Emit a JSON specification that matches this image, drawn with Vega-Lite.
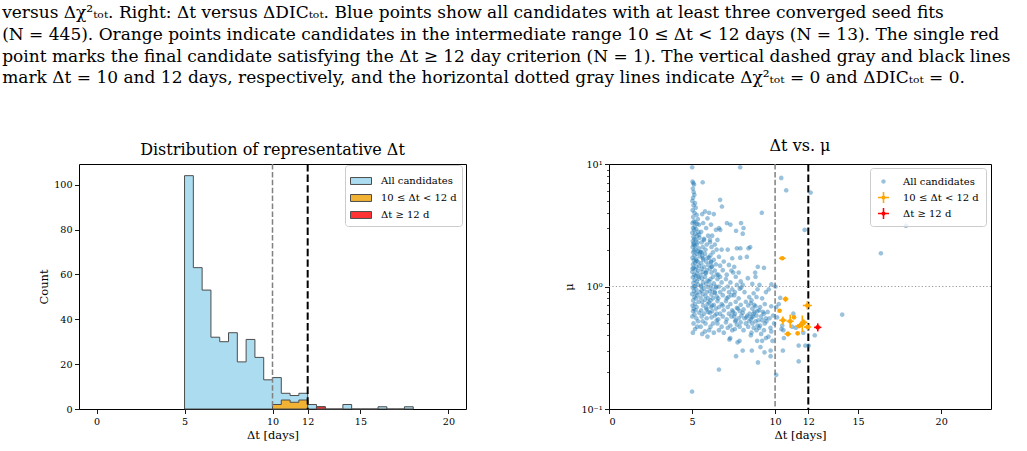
{
"$schema":"https://vega.github.io/schema/vega-lite/v6.json",
"padding":{"left":2,"top":4,"right":0,"bottom":0},
"title":{"text":["versus Δχ²ₜₒₜ. Right: Δt versus ΔDICₜₒₜ. Blue points show all candidates with at least three converged seed fits","(N = 445). Orange points indicate candidates in the intermediate range 10 ≤ Δt < 12 days (N = 13). The single red","point marks the final candidate satisfying the Δt ≥ 12 day criterion (N = 1). The vertical dashed gray and black lines","mark Δt = 10 and 12 days, respectively, and the horizontal dotted gray lines indicate Δχ²ₜₒₜ = 0 and ΔDICₜₒₜ = 0."],"anchor":"start","dx":-36,"font":"DejaVu Serif","fontSize":17,"fontWeight":"normal","color":"#000","lineHeight":21.7,"offset":50},
"datasets":{
"histAll":[{"x":5,"n":104},{"x":5.5,"n":63},{"x":6,"n":53},{"x":6.5,"n":32},{"x":7,"n":30},{"x":7.5,"n":34},{"x":8,"n":21},{"x":8.5,"n":31},{"x":9,"n":23},{"x":9.5,"n":13},{"x":10,"n":14},{"x":10.5,"n":7},{"x":11,"n":6},{"x":11.5,"n":7},{"x":12,"n":2},{"x":12.5,"n":1},{"x":13,"n":0},{"x":13.5,"n":0},{"x":14,"n":2},{"x":14.5,"n":0},{"x":15,"n":0},{"x":15.5,"n":0},{"x":16,"n":1},{"x":16.5,"n":0},{"x":17,"n":0},{"x":17.5,"n":1},{"x":18,"n":0}],
"histMid":[{"x":10,"n":2},{"x":10.5,"n":4},{"x":11,"n":3},{"x":11.5,"n":4},{"x":12,"n":0}],
"histHi":[{"x":12.5,"n":1},{"x":13,"n":0}],
"blue":[
{"x":5.01,"m":9.4},{"x":5.03,"m":7.2},{"x":5.08,"m":7.0},{"x":5.12,"m":6.8},{"x":5.05,"m":6.3},{"x":5.1,"m":5.9},{"x":5.14,"m":5.6},{"x":5.06,"m":5.3},{"x":5.02,"m":5.0},{"x":5.18,"m":4.8},
{"x":5.09,"m":4.6},{"x":5.22,"m":4.4},{"x":5.04,"m":4.2},{"x":5.15,"m":4.0},{"x":5.28,"m":3.85},{"x":5.07,"m":3.7},{"x":5.35,"m":3.55},{"x":5.11,"m":3.4},{"x":5.2,"m":3.35},{"x":5.03,"m":3.3},
{"x":5.42,"m":3.2},{"x":5.16,"m":3.1},{"x":5.06,"m":3.0},{"x":5.25,"m":2.95},{"x":5.13,"m":2.9},{"x":5.38,"m":2.8},{"x":5.02,"m":2.75},{"x":5.19,"m":2.7},{"x":5.31,"m":2.6},{"x":5.08,"m":2.55},
{"x":5.45,"m":2.5},{"x":5.14,"m":2.45},{"x":5.23,"m":2.4},{"x":5.05,"m":2.35},{"x":5.33,"m":2.3},{"x":5.1,"m":2.25},{"x":5.27,"m":2.2},{"x":5.17,"m":2.15},{"x":5.04,"m":2.1},{"x":5.4,"m":2.05},
{"x":5.21,"m":2.0},{"x":5.12,"m":1.97},{"x":5.36,"m":1.93},{"x":5.07,"m":1.9},{"x":5.29,"m":1.85},{"x":5.15,"m":1.8},{"x":5.47,"m":1.76},{"x":5.03,"m":1.72},{"x":5.24,"m":1.68},{"x":5.11,"m":1.64},
{"x":5.34,"m":1.6},{"x":5.18,"m":1.56},{"x":5.06,"m":1.52},{"x":5.43,"m":1.48},{"x":5.26,"m":1.45},{"x":5.09,"m":1.42},{"x":5.2,"m":1.38},{"x":5.37,"m":1.35},{"x":5.02,"m":1.32},{"x":5.3,"m":1.28},
{"x":5.13,"m":1.25},{"x":5.22,"m":1.22},{"x":5.05,"m":1.19},{"x":5.41,"m":1.16},{"x":5.16,"m":1.13},{"x":5.28,"m":1.1},{"x":5.08,"m":1.07},{"x":5.35,"m":1.04},{"x":5.19,"m":1.01},{"x":5.04,"m":0.98},
{"x":5.25,"m":0.95},{"x":5.12,"m":0.92},{"x":5.46,"m":0.9},{"x":5.01,"m":0.87},{"x":5.32,"m":0.85},{"x":5.14,"m":0.82},{"x":5.23,"m":0.8},{"x":5.07,"m":0.77},{"x":5.39,"m":0.75},{"x":5.17,"m":0.72},
{"x":5.03,"m":0.7},{"x":5.28,"m":0.68},{"x":5.1,"m":0.66},{"x":5.21,"m":0.64},{"x":5.06,"m":0.63},{"x":5.44,"m":0.61},{"x":5.15,"m":0.59},{"x":5.02,"m":0.57},{"x":5.26,"m":0.55},{"x":5.36,"m":0.52},
{"x":5.09,"m":0.5},{"x":5.31,"m":0.47},{"x":5.18,"m":0.45},{"x":5.05,"m":0.42},{"x":5.0,"m":0.139},{"x":5.3,"m":3.25},{"x":5.43,"m":2.65},{"x":5.09,"m":2.2},{"x":5.48,"m":1.9},{"x":5.27,"m":1.62},
{"x":5.03,"m":1.4},{"x":5.38,"m":1.2},{"x":5.13,"m":1.0},{"x":5.24,"m":0.88},
{"x":5.64,"m":7.1},{"x":5.78,"m":4.1},{"x":5.61,"m":3.9},{"x":5.93,"m":3.6},{"x":5.67,"m":3.3},{"x":5.85,"m":3.0},{"x":5.55,"m":2.8},{"x":5.97,"m":2.6},{"x":5.72,"m":2.45},{"x":5.58,"m":2.3},
{"x":5.88,"m":2.2},{"x":5.64,"m":2.1},{"x":5.81,"m":2.0},{"x":5.52,"m":1.92},{"x":5.78,"m":1.85},{"x":5.61,"m":1.78},{"x":5.93,"m":1.72},{"x":5.67,"m":1.66},{"x":5.85,"m":1.6},{"x":5.55,"m":1.55},
{"x":5.97,"m":1.5},{"x":5.72,"m":1.45},{"x":5.58,"m":1.4},{"x":5.88,"m":1.36},{"x":5.64,"m":1.32},{"x":5.81,"m":1.28},{"x":5.52,"m":1.24},{"x":5.78,"m":1.2},{"x":5.61,"m":1.16},{"x":5.93,"m":1.12},
{"x":5.67,"m":1.08},{"x":5.85,"m":1.05},{"x":5.55,"m":1.02},{"x":5.97,"m":0.99},{"x":5.72,"m":0.96},{"x":5.58,"m":0.93},{"x":5.88,"m":0.9},{"x":5.64,"m":0.87},{"x":5.81,"m":0.84},{"x":5.52,"m":0.81},
{"x":5.78,"m":0.78},{"x":5.61,"m":0.75},{"x":5.93,"m":0.72},{"x":5.67,"m":0.7},{"x":5.85,"m":0.67},{"x":5.55,"m":0.64},{"x":5.97,"m":0.62},{"x":5.72,"m":0.6},{"x":5.58,"m":0.57},{"x":5.88,"m":0.55},
{"x":5.64,"m":0.52},{"x":5.81,"m":0.5},{"x":5.52,"m":0.47},{"x":5.78,"m":0.43},{"x":5.61,"m":0.41},{"x":5.93,"m":0.39},{"x":5.67,"m":1.7},{"x":5.85,"m":1.3},{"x":5.55,"m":1.0},{"x":5.97,"m":0.8},
{"x":5.72,"m":2.4},{"x":5.58,"m":1.9},{"x":5.88,"m":0.65},
{"x":6.03,"m":4.0},{"x":6.31,"m":3.9},{"x":6.14,"m":3.2},{"x":6.44,"m":2.9},{"x":6.21,"m":2.6},{"x":6.08,"m":2.4},{"x":6.37,"m":2.2},{"x":6.17,"m":2.1},{"x":6.48,"m":2.0},{"x":6.26,"m":1.9},
{"x":6.11,"m":1.8},{"x":6.03,"m":1.72},{"x":6.31,"m":1.65},{"x":6.14,"m":1.58},{"x":6.44,"m":1.52},{"x":6.21,"m":1.46},{"x":6.08,"m":1.4},{"x":6.37,"m":1.35},{"x":6.17,"m":1.3},{"x":6.48,"m":1.25},
{"x":6.26,"m":1.2},{"x":6.11,"m":1.15},{"x":6.03,"m":1.1},{"x":6.31,"m":1.06},{"x":6.14,"m":1.02},{"x":6.44,"m":0.98},{"x":6.21,"m":0.95},{"x":6.08,"m":0.92},{"x":6.37,"m":0.89},{"x":6.17,"m":0.86},
{"x":6.48,"m":0.83},{"x":6.26,"m":0.8},{"x":6.11,"m":0.77},{"x":6.03,"m":0.74},{"x":6.31,"m":0.71},{"x":6.14,"m":0.68},{"x":6.44,"m":0.66},{"x":6.21,"m":0.63},{"x":6.08,"m":0.61},{"x":6.37,"m":0.58},
{"x":6.17,"m":0.56},{"x":6.48,"m":0.53},{"x":6.26,"m":0.5},{"x":6.11,"m":0.47},{"x":6.03,"m":0.44},{"x":6.31,"m":0.42},{"x":6.14,"m":1.6},{"x":6.44,"m":1.0},{"x":6.21,"m":0.7},{"x":6.08,"m":2.3},
{"x":6.37,"m":0.9},{"x":6.17,"m":1.45},{"x":6.48,"m":0.6},
{"x":6.69,"m":5.1},{"x":6.8,"m":4.5},{"x":6.62,"m":3.0},{"x":6.7,"m":2.9},{"x":6.53,"m":2.4},{"x":6.78,"m":2.0},{"x":6.62,"m":1.75},{"x":6.91,"m":1.6},{"x":6.69,"m":1.48},{"x":6.85,"m":1.36},
{"x":6.58,"m":1.25},{"x":6.53,"m":1.15},{"x":6.78,"m":1.08},{"x":6.62,"m":1.0},{"x":6.91,"m":0.95},{"x":6.69,"m":0.9},{"x":6.85,"m":0.85},{"x":6.58,"m":0.8},{"x":6.53,"m":0.76},{"x":6.78,"m":0.72},
{"x":6.62,"m":0.68},{"x":6.91,"m":0.64},{"x":6.69,"m":0.6},{"x":6.85,"m":0.57},{"x":6.58,"m":0.54},{"x":6.53,"m":0.5},{"x":6.78,"m":0.47},{"x":6.62,"m":0.44},{"x":6.91,"m":0.42},{"x":6.62,"m":0.21},
{"x":6.69,"m":1.2},{"x":6.85,"m":0.7},
{"x":7.1,"m":3.3},{"x":7.31,"m":3.2},{"x":7.15,"m":2.0},{"x":7.42,"m":1.7},{"x":7.22,"m":1.5},{"x":7.37,"m":1.35},{"x":7.09,"m":1.25},{"x":7.04,"m":1.15},{"x":7.31,"m":1.08},{"x":7.15,"m":1.0},
{"x":7.42,"m":0.95},{"x":7.22,"m":0.9},{"x":7.37,"m":0.85},{"x":7.09,"m":0.8},{"x":7.04,"m":0.76},{"x":7.31,"m":0.72},{"x":7.15,"m":0.68},{"x":7.42,"m":0.64},{"x":7.22,"m":0.6},{"x":7.37,"m":0.57},
{"x":7.09,"m":0.54},{"x":7.04,"m":0.51},{"x":7.31,"m":0.48},{"x":7.15,"m":0.46},{"x":7.42,"m":0.44},{"x":7.3,"m":0.38},{"x":7.25,"m":0.37},{"x":7.48,"m":1.3},{"x":7.18,"m":0.82},{"x":7.46,"m":0.62},
{"x":7.9,"m":9.4},{"x":7.65,"m":2.85},{"x":7.7,"m":2.05},{"x":7.91,"m":2.05},{"x":7.9,"m":1.72},{"x":7.54,"m":1.45},{"x":7.81,"m":1.3},{"x":7.63,"m":1.2},{"x":7.93,"m":1.1},{"x":7.7,"m":1.03},
{"x":7.87,"m":0.96},{"x":7.58,"m":0.9},{"x":7.54,"m":0.85},{"x":7.81,"m":0.8},{"x":7.63,"m":0.75},{"x":7.93,"m":0.71},{"x":7.7,"m":0.67},{"x":7.87,"m":0.63},{"x":7.58,"m":0.6},{"x":7.54,"m":0.57},
{"x":7.81,"m":0.55},{"x":7.63,"m":0.53},{"x":7.93,"m":0.51},{"x":7.7,"m":0.49},{"x":7.87,"m":0.47},{"x":7.58,"m":0.45},{"x":7.86,"m":0.36},{"x":7.74,"m":0.35},{"x":7.65,"m":0.27},{"x":7.97,"m":0.58},
{"x":7.6,"m":0.52},{"x":7.76,"m":0.66},{"x":7.96,"m":0.98},{"x":7.95,"m":3.3},
{"x":8.1,"m":3.0},{"x":8.05,"m":2.7},{"x":8.4,"m":2.05},{"x":8.3,"m":1.75},{"x":8.36,"m":1.17},{"x":8.05,"m":1.03},{"x":8.16,"m":0.9},{"x":8.44,"m":0.82},{"x":8.24,"m":0.75},{"x":8.38,"m":0.7},
{"x":8.1,"m":0.65},{"x":8.05,"m":0.61},{"x":8.33,"m":0.58},{"x":8.16,"m":0.55},{"x":8.44,"m":0.52},{"x":8.24,"m":0.5},{"x":8.38,"m":0.47},{"x":8.1,"m":0.44},{"x":8.05,"m":0.3},{"x":8.28,"m":0.56},
{"x":8.47,"m":0.6},
{"x":8.5,"m":2.1},{"x":8.96,"m":1.45},{"x":8.8,"m":1.3},{"x":8.82,"m":1.2},{"x":8.63,"m":1.05},{"x":8.94,"m":0.95},{"x":8.71,"m":0.88},{"x":8.88,"m":0.82},{"x":8.58,"m":0.77},{"x":8.54,"m":0.73},
{"x":8.82,"m":0.69},{"x":8.63,"m":0.66},{"x":8.94,"m":0.63},{"x":8.71,"m":0.6},{"x":8.88,"m":0.58},{"x":8.58,"m":0.56},{"x":8.54,"m":0.54},{"x":8.82,"m":0.52},{"x":8.63,"m":0.5},{"x":8.94,"m":0.48},
{"x":8.71,"m":0.46},{"x":8.88,"m":0.44},{"x":8.58,"m":0.42},{"x":8.54,"m":0.4},{"x":8.92,"m":0.36},{"x":8.6,"m":0.3},{"x":8.97,"m":0.24},{"x":8.76,"m":0.62},{"x":8.67,"m":0.57},{"x":8.99,"m":0.53},
{"x":8.75,"m":0.71},
{"x":9.2,"m":4.0},{"x":9.33,"m":1.42},{"x":9.06,"m":1.03},{"x":9.45,"m":0.9},{"x":9.22,"m":0.8},{"x":9.38,"m":0.72},{"x":9.1,"m":0.68},{"x":9.04,"m":0.64},{"x":9.33,"m":0.6},{"x":9.16,"m":0.57},
{"x":9.45,"m":0.55},{"x":9.22,"m":0.53},{"x":9.38,"m":0.5},{"x":9.1,"m":0.48},{"x":9.04,"m":0.46},{"x":9.33,"m":0.44},{"x":9.16,"m":0.41},{"x":9.45,"m":0.38},{"x":9.22,"m":0.36},{"x":9.12,"m":0.32},
{"x":9.36,"m":0.29},{"x":9.27,"m":0.62},{"x":9.48,"m":0.52},
{"x":9.78,"m":1.04},{"x":9.62,"m":0.95},{"x":9.77,"m":0.69},{"x":9.55,"m":0.62},{"x":9.88,"m":0.58},{"x":9.66,"m":0.55},{"x":9.94,"m":0.5},{"x":9.72,"m":0.46},{"x":9.77,"m":0.43},{"x":9.6,"m":0.39},
{"x":9.73,"m":0.3},{"x":9.73,"m":0.27},{"x":9.84,"m":0.36},
{"x":10.37,"m":7.7},{"x":10.67,"m":6.1},{"x":11.78,"m":2.9},{"x":10.31,"m":0.81},{"x":10.22,"m":0.72},{"x":10.07,"m":0.68},{"x":10.43,"m":0.48},{"x":10.38,"m":0.45},{"x":10.5,"m":0.44},{"x":10.53,"m":0.38},
{"x":11.03,"m":0.47},{"x":11.42,"m":0.33},{"x":11.82,"m":0.33},{"x":10.47,"m":0.3},{"x":11.42,"m":0.245},{"x":10.07,"m":0.19},{"x":10.12,"m":0.56},{"x":10.02,"m":1.0},{"x":11.25,"m":0.46},{"x":11.7,"m":0.42},
{"x":11.1,"m":0.6},{"x":12.14,"m":5.85},{"x":12.39,"m":0.4},{"x":12.02,"m":0.33},{"x":14.04,"m":0.59},{"x":16.37,"m":1.87},{"x":17.88,"m":3.14}
],
"orange":[
{"x":10.43,"m":1.7,"xlo":10.23,"xhi":10.63,"mlo":1.67,"mhi":1.73},
{"x":10.63,"m":0.79,"xlo":10.46,"xhi":10.8,"mlo":0.75,"mhi":0.83},
{"x":11.94,"m":0.7,"xlo":11.67,"xhi":12.21,"mlo":0.65,"mhi":0.76},
{"x":10.27,"m":0.634,"xlo":10.27,"xhi":10.27,"mlo":0.634,"mhi":0.634},
{"x":10.47,"m":0.53,"xlo":10.25,"xhi":10.69,"mlo":0.49,"mhi":0.57},
{"x":10.91,"m":0.52,"xlo":10.7,"xhi":11.12,"mlo":0.46,"mhi":0.59},
{"x":11.14,"m":0.56,"xlo":11.14,"xhi":11.14,"mlo":0.56,"mhi":0.56},
{"x":10.77,"m":0.41,"xlo":10.57,"xhi":10.97,"mlo":0.39,"mhi":0.43},
{"x":11.36,"m":0.415,"xlo":11.36,"xhi":11.36,"mlo":0.415,"mhi":0.415},
{"x":11.44,"m":0.475,"xlo":11.22,"xhi":11.66,"mlo":0.46,"mhi":0.49},
{"x":11.64,"m":0.497,"xlo":11.44,"xhi":11.84,"mlo":0.425,"mhi":0.58},
{"x":11.72,"m":0.51,"xlo":11.5,"xhi":11.94,"mlo":0.48,"mhi":0.54},
{"x":11.96,"m":0.467,"xlo":11.74,"xhi":12.18,"mlo":0.44,"mhi":0.5}
],
"red":[{"x":12.57,"m":0.464,"xlo":12.35,"xhi":12.79,"mlo":0.43,"mhi":0.5}]
},
"spacing":96,
"resolve":{"scale":{"color":"independent","shape":"independent"},"legend":{"color":"independent","shape":"independent"}},
"hconcat":[
{
"width":387,"height":245,
"title":{"text":"Distribution of representative Δt","font":"DejaVu Serif","fontSize":16,"fontWeight":"normal","color":"#000","offset":5},
"layer":[
{"data":{"name":"histAll"},"mark":{"type":"area","interpolate":"step-after","stroke":"#4d4d4d","strokeWidth":1,"opacity":1},
"encoding":{
"x":{"field":"x","type":"quantitative","title":"Δt [days]","scale":{"domain":[-1,21],"nice":false,"zero":false},"axis":{"values":[0,5,10,12,15,20]}},
"y":{"field":"n","type":"quantitative","title":"Count","scale":{"domain":[0,109.2],"nice":false},"axis":{"values":[0,20,40,60,80,100]}},
"color":{"datum":"All candidates","scale":{"domain":["All candidates","10 ≤ Δt < 12 d","Δt ≥ 12 d"],"range":["#abdcf0","#f2b233","#ff3333"]},
"legend":{"title":null,"orient":"none","legendX":266,"legendY":1,"padding":5,"fillColor":"rgba(255,255,255,0.8)","strokeColor":"#cccccc","cornerRadius":3,"symbolType":"M-1,-0.33H1V0.33H-1Z","symbolSize":441,"symbolStrokeColor":"#444444","symbolStrokeWidth":1,"symbolOpacity":1,"labelFont":"DejaVu Serif","labelFontSize":10,"labelColor":"#000","labelOffset":9,"rowPadding":-3}}
}},
{"data":{"name":"histMid"},"mark":{"type":"area","interpolate":"step-after","stroke":"#4d4d4d","strokeWidth":1,"opacity":1},
"encoding":{"x":{"field":"x","type":"quantitative","title":"Δt [days]"},"y":{"field":"n","type":"quantitative","title":"Count"},"color":{"datum":"10 ≤ Δt < 12 d"}}},
{"data":{"name":"histHi"},"mark":{"type":"area","interpolate":"step-after","stroke":"#4d4d4d","strokeWidth":1,"opacity":1},
"encoding":{"x":{"field":"x","type":"quantitative","title":"Δt [days]"},"y":{"field":"n","type":"quantitative","title":"Count"},"color":{"datum":"Δt ≥ 12 d"}}},
{"data":{"values":[{"x":10}]},"mark":{"type":"rule","color":"#808080","strokeDash":[5.5,2.4],"strokeWidth":1.5},"encoding":{"x":{"field":"x","type":"quantitative","title":"Δt [days]"}}},
{"data":{"values":[{"x":12}]},"mark":{"type":"rule","color":"#000000","strokeDash":[7.4,3.2],"strokeWidth":2},"encoding":{"x":{"field":"x","type":"quantitative","title":"Δt [days]"}}}
]
},
{
"width":382,"height":245,
"title":{"text":"Δt vs. μ","font":"DejaVu Serif","fontSize":16,"fontWeight":"normal","color":"#000","offset":5},
"resolve":{"axis":{"y":"independent"}},
"layer":[
{"data":{"values":[{"x":10}]},"mark":{"type":"rule","color":"#808080","strokeDash":[5.5,2.4],"strokeWidth":1.5},"encoding":{"x":{"field":"x","type":"quantitative","title":"Δt [days]","scale":{"domain":[0,23],"nice":false,"zero":false},"axis":{"values":[0,5,10,12,15,20]}}}},
{"data":{"values":[{"x":12}]},"mark":{"type":"rule","color":"#000000","strokeDash":[7.4,3.2],"strokeWidth":2},"encoding":{"x":{"field":"x","type":"quantitative","title":"Δt [days]"}}},
{"layer":[
{"data":{"name":"blue"},"mark":{"type":"point","filled":true,"size":127,"opacity":1},
"encoding":{
"x":{"field":"x","type":"quantitative","title":"Δt [days]"},
"y":{"field":"m","type":"quantitative","title":"μ","scale":{"type":"log","domain":[0.1,10],"nice":false},"axis":{"orient":"left","values":[0.1,1,10],"labelExpr":"datum.value < 0.5 ? '10⁻¹' : datum.value < 5 ? '10⁰' : '10¹'","titlePadding":6}},
"color":{"datum":"All candidates","scale":{"domain":["All candidates","10 ≤ Δt < 12 d","Δt ≥ 12 d"],"range":["rgba(31,119,180,0.45)","#ffa500","#ff0000"]},
"legend":{"title":null,"orient":"none","legendX":261,"legendY":4,"padding":7,"fillColor":"rgba(255,255,255,0.8)","strokeColor":"#cccccc","cornerRadius":3,"symbolSize":120,"labelFont":"DejaVu Serif","labelFontSize":10,"labelColor":"#000","labelOffset":13,"rowPadding":4}},
"shape":{"datum":"All candidates","scale":{"domain":["All candidates","10 ≤ Δt < 12 d","Δt ≥ 12 d"],"range":["M0.41,0A0.41,0.41 0 1 1 -0.41,0A0.41,0.41 0 1 1 0.41,0Z","M-1,-0.14H1V0.14H-1Z M-0.14,-1H0.14V1H-0.14Z M0.38,0A0.38,0.38 0 1 1 -0.38,0A0.38,0.38 0 1 1 0.38,0Z","M-1,-0.14H1V0.14H-1Z M-0.14,-1H0.14V1H-0.14Z M0.38,0A0.38,0.38 0 1 1 -0.38,0A0.38,0.38 0 1 1 0.38,0Z"]},
"legend":{"title":null,"orient":"none","legendX":261,"legendY":4,"padding":7,"fillColor":"rgba(255,255,255,0.8)","strokeColor":"#cccccc","cornerRadius":3,"symbolSize":120,"labelFont":"DejaVu Serif","labelFontSize":10,"labelColor":"#000","labelOffset":13,"rowPadding":4}}
}},
{"data":{"name":"orange"},"mark":{"type":"rule","color":"#ffa500","strokeWidth":1.6},"encoding":{"x":{"field":"xlo","type":"quantitative","title":"Δt [days]"},"x2":{"field":"xhi"},"y":{"field":"m","type":"quantitative","title":"μ"}}},
{"data":{"name":"orange"},"mark":{"type":"rule","color":"#ffa500","strokeWidth":1.6},"encoding":{"x":{"field":"x","type":"quantitative","title":"Δt [days]"},"y":{"field":"mlo","type":"quantitative","title":"μ"},"y2":{"field":"mhi"}}},
{"data":{"name":"orange"},"mark":{"type":"circle","size":22,"opacity":1},"encoding":{"x":{"field":"x","type":"quantitative","title":"Δt [days]"},"y":{"field":"m","type":"quantitative","title":"μ"},"color":{"datum":"10 ≤ Δt < 12 d"}}},
{"data":{"name":"red"},"mark":{"type":"rule","color":"#ff0000","strokeWidth":1.6},"encoding":{"x":{"field":"xlo","type":"quantitative","title":"Δt [days]"},"x2":{"field":"xhi"},"y":{"field":"m","type":"quantitative","title":"μ"}}},
{"data":{"name":"red"},"mark":{"type":"rule","color":"#ff0000","strokeWidth":1.6},"encoding":{"x":{"field":"x","type":"quantitative","title":"Δt [days]"},"y":{"field":"mlo","type":"quantitative","title":"μ"},"y2":{"field":"mhi"}}},
{"data":{"name":"red"},"mark":{"type":"circle","size":22,"opacity":1},"encoding":{"x":{"field":"x","type":"quantitative","title":"Δt [days]"},"y":{"field":"m","type":"quantitative","title":"μ"},"color":{"datum":"Δt ≥ 12 d"}}}
]},
{"data":{"values":[{"m":1}]},"mark":{"type":"rule","color":"#999999","strokeDash":[1.2,2.2],"strokeWidth":1.2},
"encoding":{"y":{"field":"m","type":"quantitative","title":null,"axis":{"orient":"left","values":[0.2,0.3,0.4,0.5,0.6,0.7,0.8,0.9,2,3,4,5,6,7,8,9],"labels":false,"tickSize":2.5,"tickWidth":0.7,"domain":false,"title":null}}}}
]
}
],
"config":{
"view":{"stroke":"#000","strokeWidth":1},
"axis":{"grid":false,"domain":false,"tickColor":"#000","tickSize":4.5,"tickWidth":0.9,"labelFont":"DejaVu Serif","labelFontSize":9.6,"labelColor":"#000","labelPadding":2.5,"titleFont":"DejaVu Serif","titleFontSize":11.5,"titleFontWeight":"normal","titleColor":"#000","titlePadding":4}
}
}
